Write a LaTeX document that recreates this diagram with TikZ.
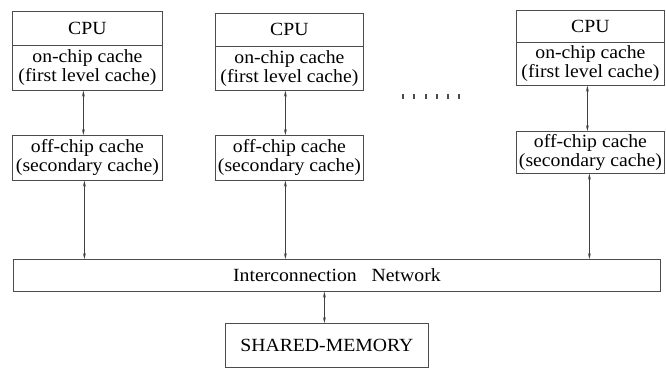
\documentclass[tikz,border=0pt]{standalone}
\usepackage{fontspec}
\setmainfont{Liberation Serif}[FakeStretch=1.06]
\usetikzlibrary{arrows.meta}
\begin{document}
\begin{tikzpicture}[x=1pt,y=-1pt,
  box/.style={draw=black!70, line width=0.8pt, inner sep=0pt, align=center,
    anchor=north west, font=\fontsize{18.6}{19}\selectfont},
  link/.style={draw=black!75, line width=0.7pt,
    {Stealth[length=6pt,width=3pt,inset=2.5pt]}-{Stealth[length=6pt,width=3pt,inset=2.5pt]}},
  tick/.style={draw=black!70, line width=1.3pt}]
\useasboundingbox (0,0) rectangle (666,368);
% column 1
\node[box, minimum width=150pt, minimum height=34pt] (cpu1) at (12,11) {CPU};
\node[box, minimum width=150pt, minimum height=45pt] (chip1) at (12,45) {on-chip cache\\(first level cache)};
\node[box, minimum width=150pt, minimum height=45pt] (off1) at (12,135) {off-chip cache\\(secondary cache)};
% column 2
\node[box, minimum width=148pt, minimum height=33pt] (cpu2) at (215,13) {CPU};
\node[box, minimum width=148pt, minimum height=44pt] (chip2) at (215,46) {on-chip cache\\(first level cache)};
\node[box, minimum width=148pt, minimum height=45pt] (off2) at (215,135) {off-chip cache\\(secondary cache)};
% column 3
\node[box, minimum width=148pt, minimum height=32pt] (cpu3) at (516,10) {CPU};
\node[box, minimum width=148pt, minimum height=43pt] (chip3) at (516,42) {on-chip cache\\(first level cache)};
\node[box, minimum width=148pt, minimum height=42pt] (off3) at (516,131) {off-chip cache\\(secondary cache)};
% network and memory
\node[box, minimum width=647pt, minimum height=32pt] (net) at (13,259) {Interconnection\hspace{0.8em}Network};
\node[box, minimum width=203pt, minimum height=44pt] (mem) at (225,323) {SHARED-MEMORY};
% links
\draw[link] ([xshift=-4pt]chip1.south) -- ([xshift=-4pt]off1.north);
\draw[link] ([xshift=-3pt]off1.south) -- ([xshift=-3pt]off1.south |- net.north);
\draw[link] ([xshift=-4pt]chip2.south) -- ([xshift=-4pt]off2.north);
\draw[link] ([xshift=-4pt]off2.south) -- ([xshift=-4pt]off2.south |- net.north);
\draw[link] ([xshift=-3pt]chip3.south) -- ([xshift=-3pt]off3.north);
\draw[link] ([xshift=-1pt]off3.south) -- ([xshift=-1pt]off3.south |- net.north);
\draw[link] (net.south -| mem.north) ++(-2.5pt,0) coordinate (na) -- (na |- mem.north);
% dots
\foreach \x in {403,414,426,437,448,459} \draw[tick] (\x,94) -- (\x,98.5);
\end{tikzpicture}
\end{document}
